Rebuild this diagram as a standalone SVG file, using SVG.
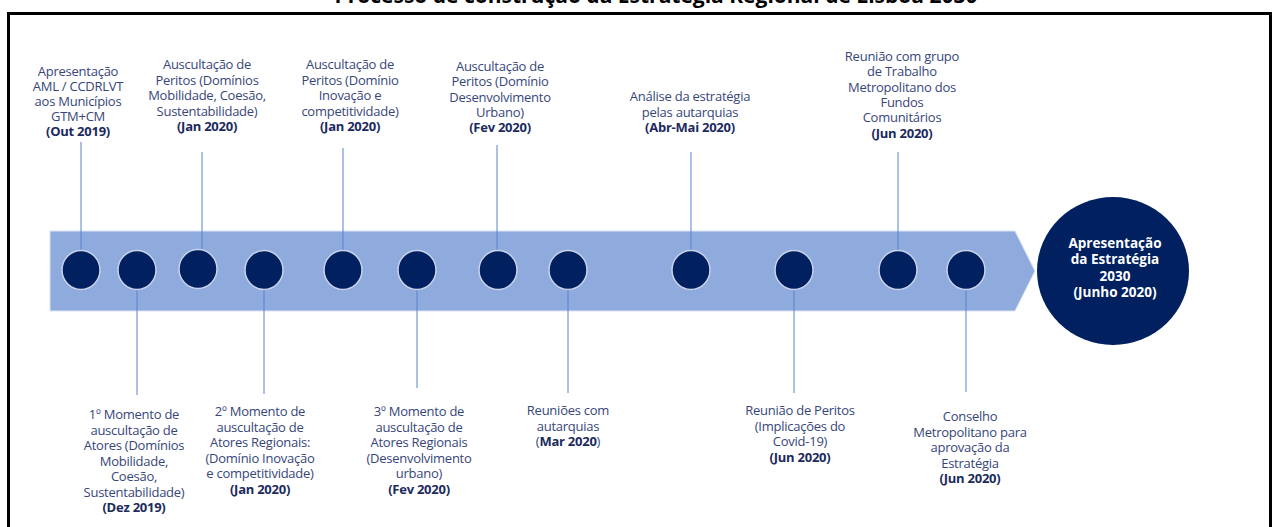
<svg xmlns="http://www.w3.org/2000/svg" width="1274" height="527" viewBox="0 0 1274 527">
<style>
.t{font-family:"Open Sans","Noto Sans","DejaVu Sans",sans-serif;font-size:13px;fill:#37467a;text-anchor:middle;letter-spacing:-0.25px}
.b{font-weight:bold;fill:#1c2a5e}
.w{font-family:"Open Sans","Noto Sans","DejaVu Sans",sans-serif;font-size:13.5px;font-weight:bold;fill:#ffffff;text-anchor:middle}
.dot{fill:#002060;stroke:#c8d2ea;stroke-width:1.5}
.ln{stroke:#5b80cf;stroke-width:1;fill:none}
</style>
<rect width="1274" height="527" fill="#ffffff"/>
<text x="656" y="3" font-family="Open Sans, Noto Sans, sans-serif" font-size="21" font-weight="bold" text-anchor="middle" fill="#000000">Processo de construção da Estratégia Regional de Lisboa 2030</text>
<rect x="8.5" y="13.5" width="1262" height="530" fill="none" stroke="#000000" stroke-width="3"/>
<g id="band">
<polygon points="50,231 1015,231 1035,271 1015,311 50,311" fill="#8faadc" stroke="#dbe4f4" stroke-width="1"/>
</g>
<g id="connectors">
<line class="ln" x1="81" y1="142" x2="81" y2="251"/>
<line class="ln" x1="202" y1="152" x2="202" y2="251"/>
<line class="ln" x1="343" y1="148" x2="343" y2="251"/>
<line class="ln" x1="497" y1="145" x2="497" y2="251"/>
<line class="ln" x1="691" y1="152" x2="691" y2="251"/>
<line class="ln" x1="898" y1="152" x2="898" y2="251"/>
<line class="ln" x1="137" y1="290" x2="137" y2="395"/>
<line class="ln" x1="264" y1="290" x2="264" y2="394"/>
<line class="ln" x1="417" y1="290" x2="417" y2="388"/>
<line class="ln" x1="568" y1="290" x2="568" y2="393"/>
<line class="ln" x1="794" y1="290" x2="794" y2="393"/>
<line class="ln" x1="966" y1="290" x2="966" y2="392"/>
</g>
<g id="dots">
<ellipse class="dot" cx="81" cy="270" rx="19" ry="19.5"/>
<ellipse class="dot" cx="137" cy="270" rx="19" ry="19.5"/>
<ellipse class="dot" cx="198" cy="269" rx="19" ry="19.5"/>
<ellipse class="dot" cx="264" cy="270" rx="19" ry="19.5"/>
<ellipse class="dot" cx="343" cy="270" rx="19" ry="19.5"/>
<ellipse class="dot" cx="417" cy="270" rx="19" ry="19.5"/>
<ellipse class="dot" cx="498" cy="270" rx="19" ry="19.5"/>
<ellipse class="dot" cx="568" cy="270" rx="19" ry="19.5"/>
<ellipse class="dot" cx="691" cy="270" rx="19" ry="19.5"/>
<ellipse class="dot" cx="794" cy="270" rx="19" ry="19.5"/>
<ellipse class="dot" cx="898" cy="270" rx="19" ry="19.5"/>
<ellipse class="dot" cx="966" cy="270" rx="19" ry="19.5"/>
</g>
<g id="final">
<ellipse cx="1113" cy="271" rx="76" ry="74" fill="#002060"/>
<text class="w" x="1115" y="248">Apresentação</text>
<text class="w" x="1115" y="264">da Estratégia</text>
<text class="w" x="1115" y="281">2030</text>
<text class="w" x="1115" y="297">(Junho 2020)</text>
</g>
<g id="n1"><text class="t" x="78" y="76">Apresentação<tspan x="78" dy="15">AML / CCDRLVT</tspan><tspan x="78" dy="15">aos Municípios</tspan><tspan x="78" dy="15">GTM+CM</tspan><tspan class="b" x="78" dy="15">(Out 2019)</tspan></text></g>
<g id="n2"><text class="t" x="134" y="419">1º Momento de<tspan x="134" dy="15.5">auscultação de</tspan><tspan x="134" dy="15.5">Atores (Domínios</tspan><tspan x="134" dy="15.5">Mobilidade,</tspan><tspan x="134" dy="15.5">Coesão,</tspan><tspan x="134" dy="15.5">Sustentabilidade)</tspan><tspan class="b" x="134" dy="15.5">(Dez 2019)</tspan></text></g>
<g id="n3"><text class="t" x="207" y="69">Auscultação de<tspan x="207" dy="15.5">Peritos (Domínios</tspan><tspan x="207" dy="15.5">Mobilidade, Coesão,</tspan><tspan x="207" dy="15.5">Sustentabilidade)</tspan><tspan class="b" x="207" dy="15.5">(Jan 2020)</tspan></text></g>
<g id="n4"><text class="t" x="260" y="416">2º Momento de<tspan x="260" dy="15.5">auscultação de</tspan><tspan x="260" dy="15.5">Atores Regionais:</tspan><tspan x="260" dy="15.5">(Domínio Inovação</tspan><tspan x="260" dy="15.5">e competitividade)</tspan><tspan class="b" x="260" dy="15.5">(Jan 2020)</tspan></text></g>
<g id="n5"><text class="t" x="350" y="69">Auscultação de<tspan x="350" dy="15.5">Peritos (Domínio</tspan><tspan x="350" dy="15.5">Inovação e</tspan><tspan x="350" dy="15.5">competitividade)</tspan><tspan class="b" x="350" dy="15.5">(Jan 2020)</tspan></text></g>
<g id="n6"><text class="t" x="419" y="416">3º Momento de<tspan x="419" dy="15.5">auscultação de</tspan><tspan x="419" dy="15.5">Atores Regionais</tspan><tspan x="419" dy="15.5">(Desenvolvimento</tspan><tspan x="419" dy="15.5">urbano)</tspan><tspan class="b" x="419" dy="15.5">(Fev 2020)</tspan></text></g>
<g id="n7"><text class="t" x="500" y="71">Auscultação de<tspan x="500" dy="15.3">Peritos (Domínio</tspan><tspan x="500" dy="15.3">Desenvolvimento</tspan><tspan x="500" dy="15.3">Urbano)</tspan><tspan class="b" x="500" dy="15.3">(Fev 2020)</tspan></text></g>
<g id="n8"><text class="t" x="568" y="415">Reuniões com<tspan x="568" dy="15.5">autarquias</tspan><tspan x="568" dy="15.5">(<tspan class="b">Mar 2020</tspan>)</tspan></text></g>
<g id="n9"><text class="t" x="690" y="101">Análise da estratégia<tspan x="690" dy="15.5">pelas autarquias</tspan><tspan class="b" x="690" dy="15.5">(Abr-Mai 2020)</tspan></text></g>
<g id="n10"><text class="t" x="800" y="415">Reunião de Peritos<tspan x="800" dy="15.5">(Implicações do</tspan><tspan x="800" dy="15.5">Covid-19)</tspan><tspan class="b" x="800" dy="15.5">(Jun 2020)</tspan></text></g>
<g id="n11"><text class="t" x="902" y="61">Reunião com grupo<tspan x="902" dy="15.3">de Trabalho</tspan><tspan x="902" dy="15.3">Metropolitano dos</tspan><tspan x="902" dy="15.3">Fundos</tspan><tspan x="902" dy="15.3">Comunitários</tspan><tspan class="b" x="902" dy="15.3">(Jun 2020)</tspan></text></g>
<g id="n12"><text class="t" x="970" y="421">Conselho<tspan x="970" dy="15.5">Metropolitano para</tspan><tspan x="970" dy="15.5">aprovação da</tspan><tspan x="970" dy="15.5">Estratégia</tspan><tspan class="b" x="970" dy="15.5">(Jun 2020)</tspan></text></g>
</svg>
